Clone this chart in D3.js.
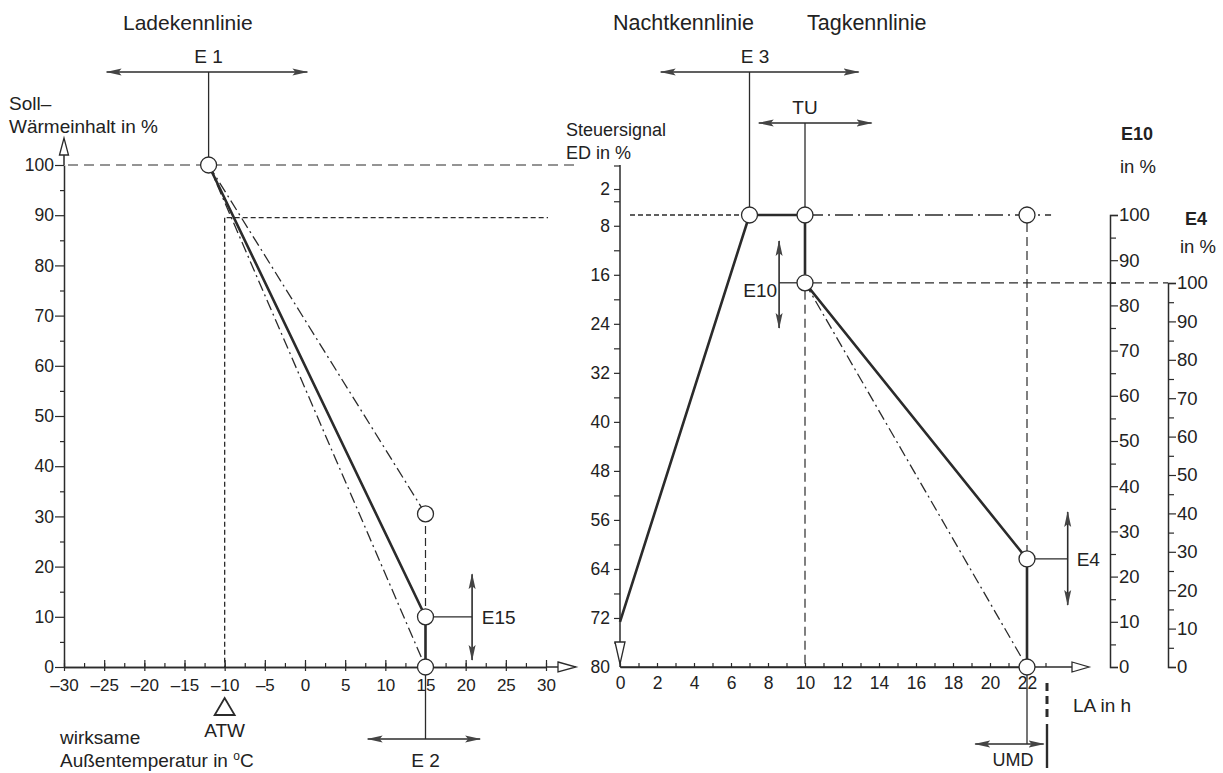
<!DOCTYPE html>
<html>
<head>
<meta charset="utf-8">
<script src="https://cdn.jsdelivr.net/npm/d3@7"></script>
<style>
  body { margin: 0; background: #fff; }
  text { font-family: 'Liberation Sans', Arial, sans-serif; fill: #222; }
</style>
</head>
<body>
<svg width="1223" height="773"></svg>
<script>
var svg = d3.select("svg"),
    INK = "#2b2b2b",
    TICK = 17.5,   // tick label size
    LBL = 19;      // annotation label size

// ---- left chart: Ladekennlinie ----
var tempTicks = d3.range(-30, 31, 5),
    tempMinor = d3.range(-30, 31, 2.5),
    heatTicks = d3.range(0, 101, 10),
    heatMinor = d3.range(5, 100, 10),
    ladeSoll = [[-12, 100], [15, 10], [15, 0]],
    ladeUpper = [[-12, 100], [15, 30.5]],
    ladeLower = [[-12, 100], [15, 0]],
    ladeCircles = [[-12, 100], [15, 30.5], [15, 10], [15, 0]],
    atwTemp = -10,
    atwHeat = 89.5;

// ---- right chart: Nacht-/Tagkennlinie ----
var hourTicks = d3.range(0, 23, 2),
    hourMinor = d3.range(0, 24, 1),
    edTicks = [2, 8, 16, 24, 32, 40, 48, 56, 64, 72, 80],
    edMinor = d3.range(4, 80, 4),
    pctTicks = d3.range(0, 101, 10),
    pctMinor = d3.range(5, 100, 10),
    nightLine = [[0, 10], [7, 100], [10, 100]],     // hours, E10 %
    dayLine = [[10, 100], [10, 85], [22, 23.9], [22, 0]],
    dayLower = [[10, 85], [22, 0]],
    dayTop = [[10, 100], [23.3, 100]],
    rightCircles = [[7, 100], [10, 100], [22, 100], [10, 85], [22, 23.9], [22, 0]];

// scales
var xT = d3.scaleLinear().domain([-30, 30]).range([64, 546]),
    yW = d3.scaleLinear().domain([0, 100]).range([667, 165]),
    xH = d3.scaleLinear().domain([0, 22]).range([620, 1027]),
    yE10 = d3.scaleLinear().domain([0, 100]).range([667, 215]),
    yE4 = d3.scaleLinear().domain([0, 100]).range([667, 283]),
    yED = d3.scaleLinear().domain([2, 80]).range([189, 667]);

// markers
var defs = svg.append("defs");
defs.append("marker").attr("id", "ah")
    .attr("viewBox", "0 0 16 8").attr("refX", 15).attr("refY", 4)
    .attr("markerWidth", 16).attr("markerHeight", 8)
    .attr("markerUnits", "userSpaceOnUse").attr("orient", "auto-start-reverse")
  .append("path").attr("d", "M0,0.5L16,4L0,7.5L3,4z").attr("fill", "#444");

function line(g, x1, y1, x2, y2, w, dash) {
  return g.append("line").attr("x1", x1).attr("y1", y1).attr("x2", x2).attr("y2", y2)
    .attr("stroke", INK).attr("stroke-width", w || 1.3)
    .attr("stroke-dasharray", dash || null);
}
function arrow2(g, x1, y1, x2, y2) {
  line(g, x1, y1, x2, y2, 1.6)
    .attr("marker-start", "url(#ah)").attr("marker-end", "url(#ah)");
}
function label(g, x, y, t, size, anchor, weight) {
  return g.append("text").attr("x", x).attr("y", y).text(t)
    .attr("font-size", size || LBL).attr("text-anchor", anchor || "start")
    .attr("font-weight", weight || null);
}
function openArrow(g, pts) {
  g.append("path").attr("d", "M" + pts.join("L") + "z")
    .attr("fill", "#fff").attr("stroke", INK).attr("stroke-width", 1.3);
}
function styleAxis(a, size) {
  a.selectAll("path.domain").attr("stroke", INK).attr("stroke-width", 1.5);
  a.selectAll(".tick line").attr("stroke", INK).attr("stroke-width", 1.2);
  a.selectAll(".tick text").attr("font-size", size || TICK).attr("fill", "#222")
    .attr("font-family", "'Liberation Sans', Arial, sans-serif");
  a.attr("font-family", null);
}

var L = svg.append("g");

// left axes
var ax = L.append("g").attr("transform", "translate(0," + yW(0) + ")")
  .call(d3.axisBottom(xT).tickValues(tempMinor).tickSize(-4).tickSizeOuter(0).tickFormat(""));
styleAxis(ax);
var ax2 = L.append("g").attr("transform", "translate(0," + yW(0) + ")")
  .call(d3.axisBottom(xT).tickValues(tempTicks).tickSize(4).tickSizeOuter(0)
    .tickFormat(function(d) { return d < 0 ? "\u2013" + (-d) : d; }));
styleAxis(ax2, 17);
ax2.selectAll(".tick line").attr("y1", -7);
ax2.selectAll(".tick text").attr("dy", "1.0em");
line(L, xT(30), yW(0), 560, yW(0), 1.5);
openArrow(L, [[558, yW(0) - 5], [576, yW(0)], [558, yW(0) + 5]]);

var ay = L.append("g").attr("transform", "translate(" + xT(-30) + ",0)")
  .call(d3.axisLeft(yW).tickValues(heatTicks).tickSize(9).tickSizeOuter(0));
styleAxis(ay);
ay.selectAll(".tick text").attr("x", -10);
L.append("g").attr("transform", "translate(" + xT(-30) + ",0)")
  .call(d3.axisLeft(yW).tickValues(heatMinor).tickSize(4).tickSizeOuter(0).tickFormat(""))
  .call(function(a) { a.select(".domain").remove(); styleAxis(a); });
line(L, xT(-30), yW(100), xT(-30), 152, 1.5);
openArrow(L, [[xT(-30) - 4.5, 155], [xT(-30), 138], [xT(-30) + 4.5, 155]]);

// left guide lines
line(L, xT(-29.5), yW(100), 576, yW(100), 1.2, "10,6");
line(L, xT(atwTemp) + 2, yW(atwHeat), 548, yW(atwHeat), 1.3, "5,3");
line(L, xT(atwTemp), yW(atwHeat), xT(atwTemp), yW(0), 1.3, "5,3");
line(L, xT(15), yW(30.5), xT(15), yW(10), 1.2, "8,4");

var lineT = d3.line().x(function(d) { return xT(d[0]); }).y(function(d) { return yW(d[1]); });
L.append("path").datum(ladeUpper).attr("d", lineT).attr("fill", "none")
  .attr("stroke", INK).attr("stroke-width", 1.3).attr("stroke-dasharray", "11,4,2,4");
L.append("path").datum(ladeLower).attr("d", lineT).attr("fill", "none")
  .attr("stroke", INK).attr("stroke-width", 1.3).attr("stroke-dasharray", "11,4,2,4");
L.append("path").datum(ladeSoll).attr("d", lineT).attr("fill", "none")
  .attr("stroke", INK).attr("stroke-width", 2.6);

// E1
line(L, xT(-12), 72, xT(-12), yW(100) - 8);
arrow2(L, xT(-24.7), 72, xT(0.3), 72);
label(L, xT(-12), 63, "E 1", LBL, "middle");
// E15
line(L, xT(15) + 8, yW(10), xT(20.8), yW(10));
arrow2(L, xT(20.8), yW(18.5), xT(20.8), yW(1.4));
label(L, xT(22), yW(10) + 7, "E15", LBL);
// E2
line(L, xT(15), yW(0) + 8, xT(15), 739);
arrow2(L, xT(7.8), 739, xT(21.8), 739);
label(L, xT(15), 767, "E 2", LBL, "middle");

L.selectAll("circle").data(ladeCircles).enter().append("circle")
  .attr("cx", function(d) { return xT(d[0]); }).attr("cy", function(d) { return yW(d[1]); })
  .attr("r", 8).attr("fill", "#fff").attr("stroke", INK).attr("stroke-width", 1.3);

// ATW
L.append("path").attr("d", "M" + [[xT(atwTemp), 698], [xT(atwTemp) - 10, 715], [xT(atwTemp) + 10, 715]].join("L") + "z")
  .attr("fill", "none").attr("stroke", INK).attr("stroke-width", 1.8);
label(L, xT(atwTemp), 737, "ATW", LBL, "middle");

label(L, 123, 30, "Ladekennlinie", 21);
label(L, 9, 110, "Soll\u2013", LBL);
label(L, 9, 133, "W\u00e4rmeinhalt in %", LBL);
label(L, 60, 744, "wirksame", LBL);
var t = label(L, 60, 767, "Au\u00dfentemperatur in ", LBL);
t.append("tspan").attr("font-size", 12).attr("dy", -7).text("o");
t.append("tspan").attr("dy", 7).text("C");

// ---- right chart ----
var R = svg.append("g");

var hx = R.append("g").attr("transform", "translate(0," + yE10(0) + ")")
  .call(d3.axisBottom(xH).tickValues(hourMinor).tickSize(-4).tickSizeOuter(0).tickFormat(""));
styleAxis(hx);
var hx2 = R.append("g").attr("transform", "translate(0," + yE10(0) + ")")
  .call(d3.axisBottom(xH).tickValues(hourTicks).tickSize(0).tickSizeOuter(0));
styleAxis(hx2);
hx2.select(".domain").remove();
hx2.selectAll(".tick text").attr("dy", "1.1em");
line(R, xH(0), yE10(0), 1074, yE10(0), 1.5);
openArrow(R, [[1072, yE10(0) - 5], [1089, yE10(0)], [1072, yE10(0) + 5]]);
label(R, 1073, 712, "LA in h", LBL);

var ed = R.append("g").attr("transform", "translate(" + xH(0) + ",0)")
  .call(d3.axisLeft(yED).tickValues(edTicks).tickSize(0).tickSizeOuter(0));
styleAxis(ed);
ed.select(".domain").remove();
ed.selectAll(".tick text").attr("dx", "-0.4em");
R.append("g").attr("transform", "translate(" + xH(0) + ",0)")
  .call(d3.axisLeft(yED).tickValues(edMinor.concat([2])).tickSize(6).tickSizeOuter(0).tickFormat(""))
  .call(function(a) { a.select(".domain").remove(); styleAxis(a); });
line(R, xH(0), 165, xH(0), 667, 1.5);
line(R, xH(0) - 6, 166, xH(0), 166, 1.2);
openArrow(R, [[xH(0) - 5, 642], [xH(0), 664], [xH(0) + 5, 642]]);
label(R, 566, 136, "Steuersignal", 18);
label(R, 566, 159, "ED in %", 18);

// E10 / E4 axes
var e10 = R.append("g").attr("transform", "translate(1110,0)")
  .call(d3.axisRight(yE10).tickValues(pctTicks).tickSize(8).tickSizeOuter(8));
styleAxis(e10, 18.5);
e10.selectAll(".tick text").attr("x", 9);
R.append("g").attr("transform", "translate(1110,0)")
  .call(d3.axisRight(yE10).tickValues(pctMinor).tickSize(6).tickSizeOuter(0).tickFormat(""))
  .call(function(a) { a.select(".domain").remove(); styleAxis(a); });

var e4 = R.append("g").attr("transform", "translate(1168,0)")
  .call(d3.axisRight(yE4).tickValues(pctTicks).tickSize(8).tickSizeOuter(8));
styleAxis(e4, 18.5);
e4.selectAll(".tick text").attr("x", 9);
R.append("g").attr("transform", "translate(1168,0)")
  .call(d3.axisRight(yE4).tickValues(pctMinor).tickSize(6).tickSizeOuter(0).tickFormat(""))
  .call(function(a) { a.select(".domain").remove(); styleAxis(a); });

label(R, 1137, 140, "E10", 18, "middle", "bold");
label(R, 1138, 173, "in  %", 18.5, "middle");
label(R, 1196, 225, "E4", 18, "middle", "bold");
label(R, 1198, 253, "in  %", 18.5, "middle");

// guide lines
line(R, xH(0) + 10, yE10(100), xH(7) - 9, yE10(100), 1.3, "5,3");
line(R, xH(10), yE10(85) + 8, xH(10), yE10(0), 1.2, "9,5");
line(R, xH(22), yE10(100) + 8, xH(22), yE10(23.9) - 8, 1.2, "9,5");
line(R, xH(10) + 8, yE10(85), 1168, yE10(85), 1.2, "9,5");

var lineH = d3.line().x(function(d) { return xH(d[0]); }).y(function(d) { return yE10(d[1]); });
R.append("path").datum(dayTop).attr("d", lineH).attr("fill", "none")
  .attr("stroke", INK).attr("stroke-width", 1.3).attr("stroke-dasharray", "18,5,2,5");
R.append("path").datum(dayLower).attr("d", lineH).attr("fill", "none")
  .attr("stroke", INK).attr("stroke-width", 1.3).attr("stroke-dasharray", "11,4,2,4");
R.append("path").datum(nightLine).attr("d", lineH).attr("fill", "none")
  .attr("stroke", INK).attr("stroke-width", 2.6);
R.append("path").datum(dayLine).attr("d", lineH).attr("fill", "none")
  .attr("stroke", INK).attr("stroke-width", 2.6);

// E3
line(R, xH(7), 72, xH(7), yE10(100) - 8);
arrow2(R, xH(2.2), 72, xH(12.9), 72);
label(R, xH(7.3), 63, "E 3", LBL, "middle");
// TU
line(R, xH(10), 123, xH(10), yE10(100) - 8);
arrow2(R, xH(7.5), 123, xH(13.6), 123);
label(R, xH(10), 114, "TU", LBL, "middle");
// E10
line(R, xH(8.6), yE10(85), xH(10) - 8, yE10(85));
arrow2(R, xH(8.6), 241, xH(8.6), 328);
label(R, xH(8.6) - 2, 297, "E10", LBL, "end");
// E4
line(R, xH(22) + 8, yE10(23.9), xH(24.2), yE10(23.9));
arrow2(R, xH(24.2), 512, xH(24.2), 605);
label(R, xH(24.2) + 9, yE10(23.9) + 7, "E4", LBL);
// UMD
line(R, xH(22), yE10(0) + 8, xH(22), 744);
arrow2(R, xH(19.2), 744, xH(22.9), 744);
line(R, 1047, 683, 1047, 722, 3, "8,5");
line(R, 1047, 724, 1047, 768, 2.4);
label(R, 1013, 766, "UMD", 18, "middle");

R.selectAll("circle").data(rightCircles).enter().append("circle")
  .attr("cx", function(d) { return xH(d[0]); }).attr("cy", function(d) { return yE10(d[1]); })
  .attr("r", 8).attr("fill", "#fff").attr("stroke", INK).attr("stroke-width", 1.3);

label(R, 613, 30, "Nachtkennlinie", 21.5);
label(R, 807, 30, "Tagkennlinie", 21.5);
</script>
</body>
</html>
